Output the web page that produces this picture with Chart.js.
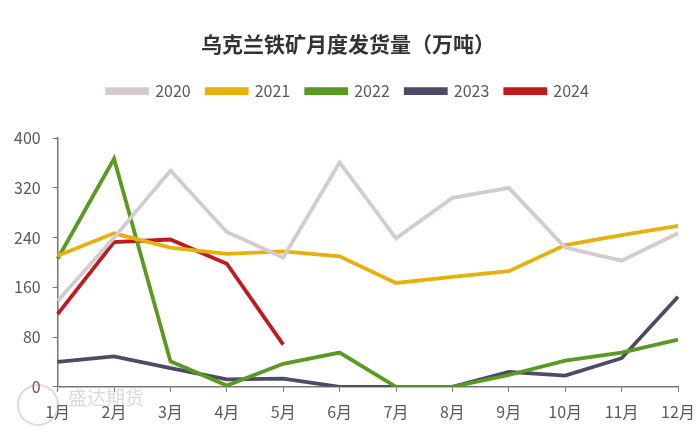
<!DOCTYPE html>
<html>
<head>
<meta charset="utf-8">
<script src="https://cdn.jsdelivr.net/npm/chart.js@4.4.1/dist/chart.umd.min.js"></script>
<style>
    html, body { margin: 0; padding: 0; background: #fff; }
    #wrap { width: 700px; height: 433px; }
</style>
</head>
<body>
<div id="wrap"><canvas id="myChart"></canvas></div>
<script>
var months = ["1月", "2月", "3月", "4月", "5月", "6月", "7月", "8月", "9月", "10月", "11月", "12月"];
var y2020 = [138, 240, 348, 249, 208, 361, 239, 304, 320, 224, 203, 247];
var y2021 = [211, 247, 224, 214, 218, 210, 167, 177, 186, 228, 244, 259];
var y2022 = [206, 367, 41, 2, 37, 55, 0, 0, 19, 42, 55, 76];
var y2023 = [40, 49, 30, 12, 13, 0, 0, 0, 24, 18, 46, 145];
var y2024 = [117, 233, 237, 198, 68];
var yTicks = [0, 80, 160, 240, 320, 400];

var font = "'Noto Sans CJK SC', 'Noto Sans', sans-serif";
var textColor = "#595959";

const line = (label, data, color) => ({
    label: label,
    data: data,
    borderColor: color,
    backgroundColor: color,
    borderWidth: 3.8,
    pointRadius: 0,
    tension: 0
});

// faint watermark bottom left
const watermark = {
    id: "watermark",
    beforeDatasetsDraw(chart) {
        const ctx = chart.ctx;
        ctx.save();
        ctx.strokeStyle = "rgba(215,120,120,0.35)";
        ctx.lineWidth = 2;
        ctx.beginPath();
        ctx.arc(38, 405, 20, 0, Math.PI * 2);
        ctx.stroke();
        ctx.fillStyle = "rgba(150,150,150,0.35)";
        ctx.font = "19px " + font;
        ctx.textBaseline = "middle";
        ctx.fillText("盛达期货", 68, 398);
        ctx.restore();
    }
};

// extra space under legend
const legendGap = {
    id: "legendGap",
    beforeInit(chart) {
        const fit = chart.legend.fit;
        chart.legend.fit = function () {
            fit.bind(chart.legend)();
            this.height += 29;
        };
    }
};

new Chart("myChart", {
    type: "line",
    data: {
        labels: months,
        datasets: [
            line("2020", y2020, "#d3cbce"),
            line("2021", y2021, "#e8b00c"),
            line("2022", y2022, "#5b9a22"),
            line("2023", y2023, "#4b4b66"),
            line("2024", y2024, "#c01a1d")
        ]
    },
    options: {
        responsive: true,
        maintainAspectRatio: false,
        animation: false,
        layout: { padding: { left: 2, right: 6, top: 0, bottom: 0 } },
        plugins: {
            title: {
                display: true,
                text: "乌克兰铁矿月度发货量（万吨）",
                color: "#333",
                font: { family: font, size: 21, weight: "bold" },
                padding: { top: 31, bottom: 11 }
            },
            legend: {
                labels: {
                    color: textColor,
                    font: { family: font, size: 16 },
                    boxWidth: 40,
                    boxHeight: 4,
                    padding: 16
                }
            },
            tooltip: { enabled: false }
        },
        scales: {
            x: {
                offset: false,
                afterFit: (axis) => { axis.paddingRight = 22; },
                grid: { drawOnChartArea: false, drawTicks: true, tickLength: 5, color: "#777" },
                border: { color: "#777", width: 1.5 },
                ticks: { color: textColor, font: { family: font, size: 16 }, padding: 11, maxRotation: 0 }
            },
            y: {
                min: 0,
                max: 400,
                afterBuildTicks: (axis) => { axis.ticks = yTicks.map(v => ({ value: v })); },
                grid: { drawOnChartArea: false, drawTicks: true, tickLength: 5, color: "#777" },
                border: { color: "#777", width: 1.5 },
                ticks: { color: textColor, font: { family: font, size: 16 }, padding: 12 }
            }
        }
    },
    plugins: [watermark, legendGap]
});
</script>
</body>
</html>
